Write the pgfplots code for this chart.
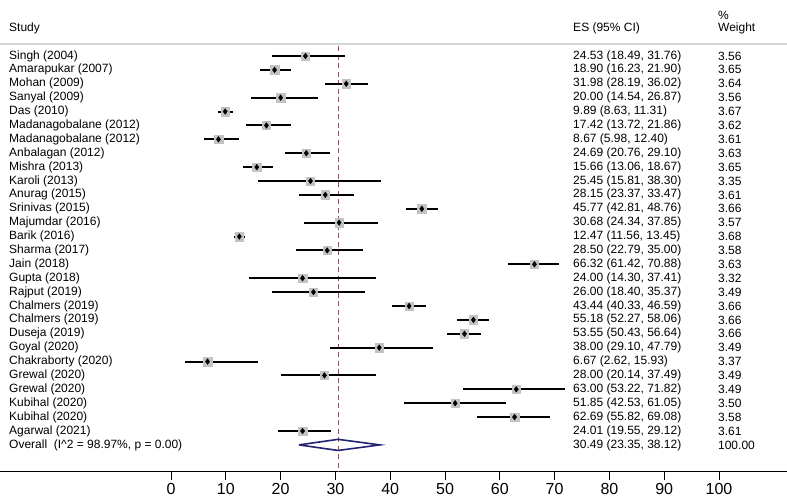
\documentclass[border=0pt]{standalone}
\usepackage{pgfplots}
\usepackage{pgfplotstable}
\usepackage{fontspec}
\setmainfont{Liberation Sans}
\pgfplotsset{compat=1.18}
\definecolor{sqgray}{RGB}{195,195,195}
\definecolor{refred}{RGB}{175,70,80}
\definecolor{navy}{RGB}{35,35,115}
\definecolor{hdrgray}{RGB}{212,212,212}
\newcommand{\tfont}{\fontsize{12}{14}\selectfont}

\pgfplotstableread[col sep=semicolon]{
row;name;es;lo;hi;ci;w
1;Singh (2004);24.53;18.49;31.76;24.53 (18.49, 31.76);3.56
2;Amarapukar (2007);18.90;16.23;21.90;18.90 (16.23, 21.90);3.65
3;Mohan (2009);31.98;28.19;36.02;31.98 (28.19, 36.02);3.64
4;Sanyal (2009);20.00;14.54;26.87;20.00 (14.54, 26.87);3.56
5;Das (2010);9.89;8.63;11.31;9.89 (8.63, 11.31);3.67
6;Madanagobalane (2012);17.42;13.72;21.86;17.42 (13.72, 21.86);3.62
7;Madanagobalane (2012);8.67;5.98;12.40;8.67 (5.98, 12.40);3.61
8;Anbalagan (2012);24.69;20.76;29.10;24.69 (20.76, 29.10);3.63
9;Mishra (2013);15.66;13.06;18.67;15.66 (13.06, 18.67);3.65
10;Karoli (2013);25.45;15.81;38.30;25.45 (15.81, 38.30);3.35
11;Anurag (2015);28.15;23.37;33.47;28.15 (23.37, 33.47);3.61
12;Srinivas (2015);45.77;42.81;48.76;45.77 (42.81, 48.76);3.66
13;Majumdar (2016);30.68;24.34;37.85;30.68 (24.34, 37.85);3.57
14;Barik (2016);12.47;11.56;13.45;12.47 (11.56, 13.45);3.68
15;Sharma (2017);28.50;22.79;35.00;28.50 (22.79, 35.00);3.58
16;Jain (2018);66.32;61.42;70.88;66.32 (61.42, 70.88);3.63
17;Gupta (2018);24.00;14.30;37.41;24.00 (14.30, 37.41);3.32
18;Rajput (2019);26.00;18.40;35.37;26.00 (18.40, 35.37);3.49
19;Chalmers (2019);43.44;40.33;46.59;43.44 (40.33, 46.59);3.66
20;Chalmers (2019);55.18;52.27;58.06;55.18 (52.27, 58.06);3.66
21;Duseja (2019);53.55;50.43;56.64;53.55 (50.43, 56.64);3.66
22;Goyal (2020);38.00;29.10;47.79;38.00 (29.10, 47.79);3.49
23;Chakraborty (2020);6.67;2.62;15.93;6.67 (2.62, 15.93);3.37
24;Grewal (2020);28.00;20.14;37.49;28.00 (20.14, 37.49);3.49
25;Grewal (2020);63.00;53.22;71.82;63.00 (53.22, 71.82);3.49
26;Kubihal (2020);51.85;42.53;61.05;51.85 (42.53, 61.05);3.50
27;Kubihal (2020);62.69;55.82;69.08;62.69 (55.82, 69.08);3.58
28;Agarwal (2021);24.01;19.55;29.12;24.01 (19.55, 29.12);3.61
}\studies

\begin{document}
\begin{tikzpicture}
\begin{axis}[
  name=ax,
  scale only axis,
  width=787pt, height=471.7pt,
  xmin=-31.2, xmax=112.4,
  ymin=-30.93, ymax=3.03,
  clip=false,
  axis y line=none,
  axis x line*=bottom,
  x axis line style={line width=1pt, black},
  xtick={0,10,...,100},
  tick align=outside,
  major tick length=8pt,
  tick style={black, line width=0.9pt},
  xticklabel style={font=\fontsize{16}{19}\selectfont},
  /pgf/number format/assume math mode=true,
  nodes near coords style={font=\tfont, inner sep=0pt, black},
]
% header line
\addplot[hdrgray, line width=2pt, forget plot] coordinates {(-31.2,-0.158) (112.4,-0.158)};
% overall reference line
\addplot[refred, line width=1.1pt, dash pattern=on 5pt off 3.5pt, forget plot] coordinates {(30.49,-0.3) (30.49,-30.93)};
% CIs
\addplot[draw=none, mark=none, forget plot,
  error bars/.cd, x dir=both, x explicit, error mark=none,
  error bar style={line width=2pt, black}]
  table[x=es, y expr=-\thisrow{row},
        x error plus expr=\thisrow{hi}-\thisrow{es},
        x error minus expr=\thisrow{es}-\thisrow{lo}] {\studies};
% weight squares
\addplot[only marks, mark=square*, sqgray, mark size=4.2pt, forget plot]
  table[x=es, y expr=-\thisrow{row}] {\studies};
% point estimates
\addplot[only marks, mark=diamond*, black, mark size=2.8pt, forget plot]
  table[x=es, y expr=-\thisrow{row}] {\studies};
% study labels
\addplot[draw=none, mark=none, forget plot, nodes near coords,
  point meta=explicit symbolic, nodes near coords style={anchor=west}]
  table[x expr=-29.56, y expr=-\thisrow{row}, meta=name] {\studies};
\addplot[draw=none, mark=none, forget plot, nodes near coords,
  point meta=explicit symbolic, nodes near coords style={anchor=west}]
  table[x expr=73.36, y expr=-\thisrow{row}, meta=ci] {\studies};
\addplot[draw=none, mark=none, forget plot, nodes near coords,
  point meta=explicit symbolic, nodes near coords style={anchor=west}]
  table[x expr=99.8, y expr=-\thisrow{row}, meta=w] {\studies};
% overall diamond
\addplot[navy, line width=1.6pt, forget plot] coordinates
  {(23.35,-29) (30.49,-28.6) (38.12,-29) (30.49,-29.4) (23.35,-29)};
% headers and overall text
\node[anchor=west, font=\tfont, inner sep=0pt] at (axis cs:-29.56,0.994) {Study};
\node[anchor=west, font=\tfont, inner sep=0pt] at (axis cs:73.36,0.994) {ES (95\% CI)};
\node[anchor=west, font=\tfont, inner sep=0pt] at (axis cs:99.8,0.994) {Weight};
\node[anchor=west, font=\tfont, inner sep=0pt] at (axis cs:99.8,1.95) {\%};
\node[anchor=west, font=\tfont, inner sep=0pt] at (axis cs:-29.56,-29) {Overall\ \ (I\textasciicircum 2 = 98.97\%, p = 0.00)};
\node[anchor=west, font=\tfont, inner sep=0pt] at (axis cs:73.36,-29) {30.49 (23.35, 38.12)};
\node[anchor=west, font=\tfont, inner sep=0pt] at (axis cs:99.8,-29) {100.00};
\end{axis}
\pgfresetboundingbox
\path ([yshift=-30.3pt]ax.south west) rectangle (ax.north east);
\end{tikzpicture}
\end{document}
